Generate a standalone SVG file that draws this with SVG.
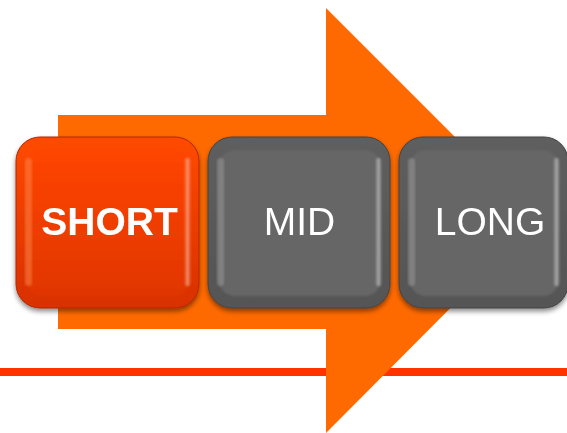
<svg xmlns="http://www.w3.org/2000/svg" width="567" height="433" viewBox="0 0 567 433">
  <defs>
    <linearGradient id="gOrange" x1="0" y1="0" x2="0" y2="1">
      <stop offset="0" stop-color="#FF4A05"/>
      <stop offset="1" stop-color="#D83000"/>
    </linearGradient>
    <linearGradient id="gOrangeIn" x1="0" y1="0" x2="0" y2="1">
      <stop offset="0" stop-color="#FF4500"/>
      <stop offset="1" stop-color="#E03600"/>
    </linearGradient>
    <linearGradient id="gGray" x1="0" y1="0" x2="0" y2="1">
      <stop offset="0" stop-color="#5E5E5E"/>
      <stop offset="1" stop-color="#555555"/>
    </linearGradient>
    <linearGradient id="gEdgeR" x1="0" y1="0" x2="1" y2="0">
      <stop offset="0" stop-color="#FFFFFF" stop-opacity="0"/>
      <stop offset="0.5" stop-color="#FFFFFF" stop-opacity="0.45"/>
      <stop offset="1" stop-color="#FFFFFF" stop-opacity="0"/>
    </linearGradient>
    <filter id="shadow" x="-10%" y="-10%" width="120%" height="125%">
      <feGaussianBlur in="SourceAlpha" stdDeviation="2.5"/>
      <feOffset dx="0" dy="3" result="b"/>
      <feComponentTransfer><feFuncA type="linear" slope="0.45"/></feComponentTransfer>
      <feMerge><feMergeNode/><feMergeNode in="SourceGraphic"/></feMerge>
    </filter>
    <filter id="soft" x="-5%" y="-5%" width="110%" height="110%">
      <feGaussianBlur stdDeviation="1.2"/>
    </filter>
  </defs>
  <style>
    .lbl { fill: #FFFFFF; font-family: "Liberation Sans", Arial, sans-serif; font-size: 39px; }
    .b { font-weight: bold; }
  </style>

  <rect x="0" y="0" width="567" height="433" fill="#FFFFFF"/>

  <g id="baseline">
    <rect x="0" y="368" width="567" height="8" fill="#FF3300"/>
  </g>

  <g id="arrow">
    <polygon points="58,115 326,115 326,8 538,220 326,433 326,329 58,329" fill="#FF6A00"/>
  </g>

  <g id="short" filter="url(#shadow)">
    <rect x="16" y="137" width="183" height="171" rx="24" fill="url(#gOrange)" stroke="#B02800" stroke-width="1"/>
    <rect x="27" y="150" width="163" height="146" rx="16" fill="url(#gOrangeIn)" filter="url(#soft)"/>
    <rect x="25" y="158" width="7" height="128" rx="3.5" fill="#FF9A60" opacity="0.4" filter="url(#soft)"/>
    <rect x="184" y="158" width="7" height="128" rx="3.5" fill="url(#gEdgeR)" filter="url(#soft)"/>
    <text class="lbl b" x="109.5" y="235" text-anchor="middle">SHORT</text>
  </g>

  <g id="mid" filter="url(#shadow)">
    <rect x="208" y="137" width="182" height="171" rx="24" fill="url(#gGray)" stroke="#444444" stroke-width="1"/>
    <rect x="219" y="150" width="162" height="146" rx="16" fill="#666666" filter="url(#soft)"/>
    <rect x="217" y="158" width="7" height="128" rx="3.5" fill="#AAAAAA" opacity="0.4" filter="url(#soft)"/>
    <rect x="375" y="158" width="7" height="128" rx="3.5" fill="url(#gEdgeR)" filter="url(#soft)"/>
    <text class="lbl" x="299.5" y="235" text-anchor="middle">MID</text>
  </g>

  <g id="long" filter="url(#shadow)">
    <rect x="399" y="137" width="169" height="171" rx="24" fill="url(#gGray)" stroke="#444444" stroke-width="1"/>
    <rect x="410" y="150" width="149" height="146" rx="16" fill="#666666" filter="url(#soft)"/>
    <rect x="408" y="158" width="7" height="128" rx="3.5" fill="#AAAAAA" opacity="0.4" filter="url(#soft)"/>
    <rect x="553" y="158" width="7" height="128" rx="3.5" fill="url(#gEdgeR)" filter="url(#soft)"/>
    <text class="lbl" x="490" y="235" text-anchor="middle">LONG</text>
  </g>
</svg>
